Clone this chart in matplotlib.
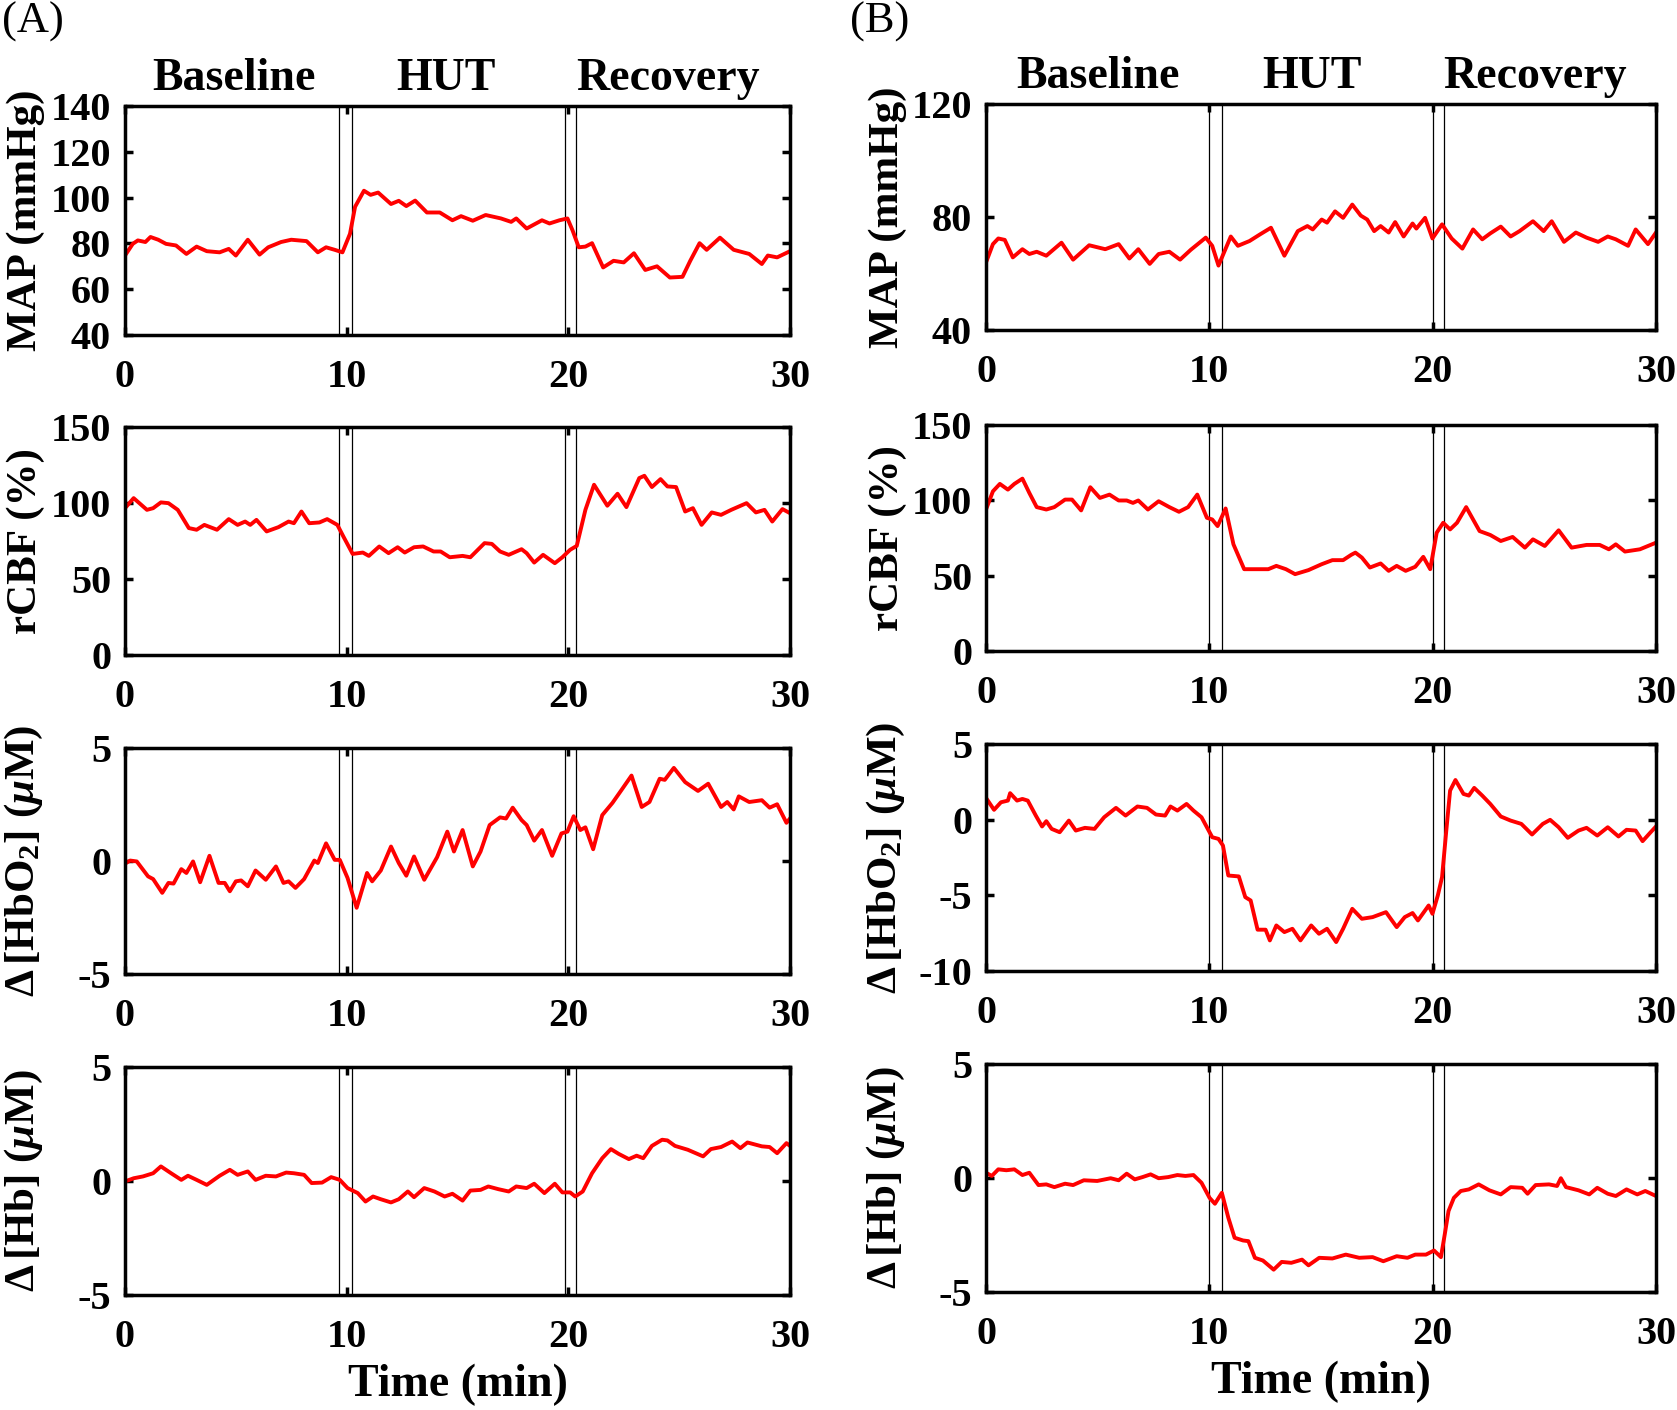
import numpy as np
import matplotlib
matplotlib.use("Agg")
import matplotlib.pyplot as plt

plt.rcParams['font.family'] = ['Liberation Serif', 'DejaVu Serif']
plt.rcParams['font.weight'] = 'bold'
plt.rcParams['mathtext.fontset'] = 'custom'
plt.rcParams['mathtext.rm'] = 'Liberation Serif:bold'
plt.rcParams['mathtext.it'] = 'Liberation Serif:italic:bold'
plt.rcParams['mathtext.bf'] = 'Liberation Serif:bold'
plt.rcParams['mathtext.default'] = 'regular'
plt.rcParams['axes.unicode_minus'] = False

# ---- data (time in min) ----
# (A) MAP
a_map_t = [0, 0.35, 0.58, 0.92, 1.15, 1.5, 1.85, 2.3, 2.77, 3.23, 3.69, 4.27, 4.68, 5.0, 5.54, 6.07, 6.46, 7.04, 7.5, 8.19,
           8.7, 9.07, 9.46, 9.81, 10.15, 10.38, 10.78, 11.08, 11.42, 12.0, 12.35, 12.69, 13.09, 13.62, 14.2, 14.77, 15.16,
           15.69, 16.27, 16.96, 17.42, 17.65, 18.12, 18.81, 19.15, 19.6, 19.96, 20.19, 20.47, 20.77, 21.07, 21.57, 22.04,
           22.5, 22.96, 23.47, 24.0, 24.58, 25.15, 25.5, 25.92, 26.24, 26.84, 27.46, 28.16, 28.73, 29.0, 29.42, 30]
a_map_v = [74.7, 79.8, 81.3, 80.6, 82.8, 81.6, 79.8, 79.1, 75.4, 78.6, 76.6, 76.1, 77.6, 74.7, 81.6, 75.1, 78.3, 80.6, 81.6, 81.0,
           76.1, 78.3, 77.2, 76.1, 84.2, 96.0, 103.0, 101.2, 102.2, 97.2, 98.6, 96.3, 98.7, 93.5, 93.5, 90.1, 91.9,
           89.9, 92.4, 90.9, 89.4, 90.9, 86.5, 90.1, 88.7, 90.1, 90.9, 85.7, 78.3, 78.6, 80.1, 69.5, 72.4,
           71.7, 75.7, 68.4, 70.0, 65.1, 65.4, 72.4, 80.1, 77.2, 82.5, 77.2, 75.4, 71.0, 74.7, 73.9, 76.6]

# (B) MAP
b_map_t = [0, 0.31, 0.55, 0.84, 1.2, 1.63, 1.94, 2.27, 2.7, 3.38, 3.9, 4.62, 5.34, 5.94, 6.42, 6.82, 7.33, 7.73, 8.21, 8.69,
           9.17, 9.84, 10.13, 10.41, 10.96, 11.28, 11.8, 12.28, 12.76, 13.36, 13.96, 14.39, 14.63, 15.03, 15.27, 15.63,
           15.99, 16.4, 16.78, 17.07, 17.38, 17.67, 18.03, 18.32, 18.7, 19.1, 19.27, 19.66, 19.99, 20.42, 20.85, 21.33,
           21.81, 22.22, 22.58, 23.05, 23.49, 23.89, 24.49, 24.97, 25.33, 25.88, 26.41, 26.89, 27.41, 27.84, 28.2, 28.75,
           29.09, 29.64, 30]
b_map_v = [63.9, 70.4, 72.4, 71.9, 65.7, 68.6, 66.9, 67.7, 66.3, 70.9, 64.9, 70.0, 68.6, 70.4, 65.3, 68.6, 63.4, 66.9, 67.7, 64.9,
           68.4, 72.7, 69.8, 62.8, 73.1, 69.8, 71.5, 73.9, 76.2, 66.3, 75.0, 76.8, 75.6, 79.1, 78.0, 82.0,
           79.7, 84.4, 80.5, 79.1, 75.0, 76.8, 74.5, 78.2, 73.1, 77.7, 75.9, 79.7, 72.4, 77.4, 72.4, 68.8,
           75.6, 72.1, 74.2, 76.6, 73.1, 75.0, 78.5, 75.0, 78.5, 71.2, 74.5, 72.7, 71.2, 73.1, 72.1, 69.8,
           75.6, 70.4, 74.5]

# (A) rCBF
a_cbf_t = [0, 0.39, 0.99, 1.27, 1.62, 1.96, 2.38, 2.88, 3.23, 3.58, 4.15, 4.68, 5.08, 5.42, 5.65, 5.93, 6.39, 6.92, 7.38,
           7.62, 7.96, 8.31, 8.77, 9.12, 9.58, 9.85, 10.27, 10.73, 11.0, 11.47, 11.89, 12.3, 12.62, 13.04, 13.45, 13.92,
           14.24, 14.65, 15.23, 15.58, 16.22, 16.55, 16.92, 17.31, 17.89, 18.12, 18.46, 18.86, 19.39, 19.73, 20.08, 20.38,
           20.77, 21.16, 21.76, 22.22, 22.62, 23.2, 23.43, 23.77, 24.16, 24.47, 24.86, 25.27, 25.62, 26.01, 26.47, 26.89,
           27.35, 28.04, 28.46, 28.85, 29.2, 29.66, 30]
a_cbf_v = [96.6, 103.2, 95.5, 96.6, 100.4, 99.9, 95.5, 83.5, 82.4, 85.6, 82.4, 89.4, 85.6, 87.8, 85.6, 88.9, 81.3, 84.1, 87.8,
           86.7, 94.4, 86.7, 87.2, 89.4, 85.6, 78.0, 66.5, 67.4, 65.2, 71.4, 67.0, 70.9, 67.4, 70.9, 71.4, 68.1,
           68.1, 64.3, 65.2, 64.3, 73.6, 73.1, 68.1, 65.9, 69.6, 67.0, 60.8, 65.9, 60.4, 64.3, 69.2, 71.8,
           95.5, 112.0, 98.2, 106.1, 97.3, 116.4, 117.9, 110.5, 115.7, 110.9, 110.5, 94.4, 96.6, 85.6, 93.8, 92.2,
           95.5, 99.9, 93.8, 95.5, 87.8, 96.0, 93.3]

# (B) rCBF
b_cbf_t = [0, 0.31, 0.62, 0.98, 1.27, 1.63, 1.94, 2.27, 2.7, 3.06, 3.54, 3.85, 4.26, 4.67, 5.1, 5.53, 5.94, 6.3, 6.58, 6.82,
           7.25, 7.73, 8.21, 8.64, 9.05, 9.46, 9.89, 10.13, 10.37, 10.73, 11.08, 11.56, 12.16, 12.64, 13.0, 13.43, 13.84,
           14.44, 15.03, 15.51, 15.99, 16.35, 16.54, 16.83, 17.19, 17.67, 18.03, 18.39, 18.79, 19.22, 19.58, 19.89, 20.18,
           20.47, 20.78, 21.09, 21.5, 22.1, 22.58, 23.05, 23.58, 24.13, 24.49, 25.02, 25.64, 26.22, 26.89, 27.48, 27.89,
           28.2, 28.61, 29.28, 30]
b_cbf_v = [93.9, 106.0, 110.9, 107.1, 110.9, 114.4, 104.9, 95.5, 93.9, 95.5, 100.5, 100.5, 93.3, 108.7, 101.6, 103.8, 99.9, 99.9,
           98.3, 99.9, 93.9, 99.4, 95.5, 92.4, 95.5, 103.8, 88.4, 87.3, 82.9, 94.6, 70.8, 54.3, 54.3, 54.3, 56.5, 54.3, 51.0,
           53.7, 57.6, 60.3, 60.3, 63.8, 65.3, 62.0, 55.4, 58.1, 53.2, 56.5, 53.2, 55.9, 62.5, 54.3, 78.5,
           85.1, 80.7, 85.1, 95.5, 79.6, 77.0, 73.0, 75.7, 68.6, 74.1, 69.7, 80.1, 68.6, 70.4, 70.4, 67.5,
           70.8, 66.0, 67.5, 71.9]

# (A) delta HbO2
a_hbo_t = [0, 0.23, 0.53, 1.04, 1.27, 1.68, 1.96, 2.19, 2.54, 2.77, 3.07, 3.39, 3.81, 4.22, 4.5, 4.73, 5.0, 5.24, 5.54, 5.89,
           6.35, 6.81, 7.15, 7.38, 7.69, 8.08, 8.54, 8.7, 9.07, 9.46, 9.69, 10.04, 10.45, 10.92, 11.15, 11.54, 12.0, 12.35,
           12.69, 13.04, 13.5, 14.08, 14.54, 14.84, 15.23, 15.69, 16.04, 16.45, 16.92, 17.19, 17.49, 17.89, 18.12, 18.46,
           18.81, 19.27, 19.69, 19.96, 20.24, 20.54, 20.77, 21.12, 21.53, 21.99, 22.39, 22.85, 23.31, 23.66, 24.12, 24.35,
           24.76, 25.27, 25.85, 26.31, 26.89, 27.17, 27.46, 27.69, 28.16, 28.73, 29.08, 29.42, 29.84, 30]
a_hbo_v = [-0.12, 0.02, -0.02, -0.68, -0.80, -1.41, -0.97, -1.0, -0.36, -0.53, -0.02, -0.94, 0.23, -0.97, -0.97, -1.34, -0.90,
           -0.86, -1.12, -0.42, -0.83, -0.24, -0.97, -0.90, -1.19, -0.80, 0.02, -0.09, 0.78, 0.05, 0.05, -0.75, -2.07, -0.53,
           -0.90, -0.42, 0.64, -0.09, -0.65, 0.20, -0.83, 0.17, 1.30, 0.42, 1.37, -0.24, 0.42, 1.59, 1.93, 1.88, 2.36, 1.81,
           1.59, 0.90, 1.37, 0.23, 1.22, 1.30, 1.98, 1.37, 1.49, 0.52, 2.03, 2.57, 3.13, 3.78, 2.39, 2.61, 3.64, 3.59,
           4.12, 3.49, 3.10, 3.42, 2.39, 2.61, 2.28, 2.86, 2.61, 2.69, 2.36, 2.51, 1.69, 1.88]

# (B) delta HbO2
b_hbo_t = [0, 0.36, 0.67, 0.98, 1.08, 1.39, 1.63, 1.87, 2.23, 2.51, 2.7, 2.94, 3.3, 3.71, 4.02, 4.43, 4.86, 5.29, 5.82, 6.25,
           6.78, 7.21, 7.61, 8.02, 8.26, 8.57, 8.98, 9.29, 9.65, 9.89, 10.13, 10.41, 10.61, 10.85, 11.32, 11.61, 11.85,
           12.16, 12.52, 12.71, 13.0, 13.36, 13.72, 14.08, 14.56, 14.91, 15.27, 15.68, 15.99, 16.4, 16.83, 17.31, 17.91,
           18.39, 18.75, 19.1, 19.34, 19.82, 19.99, 20.23, 20.42, 20.61, 20.78, 21.02, 21.38, 21.62, 21.86, 22.22, 22.58,
           23.05, 23.49, 23.97, 24.45, 24.93, 25.26, 25.64, 26.05, 26.53, 26.89, 27.37, 27.84, 28.32, 28.68, 29.09, 29.4,
           29.76, 30]
b_hbo_v = [1.44, 0.65, 1.15, 1.26, 1.75, 1.26, 1.37, 1.26, 0.27, -0.45, -0.10, -0.61, -0.83, -0.06, -0.72, -0.54, -0.61, 0.16,
           0.78, 0.27, 0.87, 0.78, 0.34, 0.27, 0.87, 0.60, 1.04, 0.60, 0.16, -0.50, -1.16, -1.27, -1.71, -3.69, -3.75,
           -5.12, -5.34, -7.27, -7.27, -7.98, -6.99, -7.43, -7.21, -7.98, -6.99, -7.54, -7.21, -8.09, -7.21, -5.89, -6.55,
           -6.44, -6.11, -7.10, -6.44, -6.17, -6.66, -5.67, -6.22, -5.01, -3.80, -0.72, 1.92, 2.62, 1.70, 1.59, 2.10, 1.59,
           1.04, 0.21, -0.06, -0.28, -0.98, -0.28, -0.01, -0.50, -1.20, -0.72, -0.54, -1.05, -0.50, -1.11, -0.67, -0.72,
           -1.42, -0.83, -0.45]

# (A) delta Hb
a_hb_t = [0, 0.39, 0.81, 1.27, 1.62, 2.08, 2.54, 2.84, 3.23, 3.69, 4.27, 4.73, 5.08, 5.54, 5.89, 6.35, 6.81, 7.27, 7.62, 8.08,
          8.42, 8.89, 9.3, 9.69, 10.04, 10.5, 10.85, 11.19, 11.54, 12.0, 12.35, 12.76, 13.04, 13.5, 13.96, 14.42, 14.77,
          15.23, 15.58, 16.04, 16.39, 16.85, 17.31, 17.65, 18.12, 18.46, 18.92, 19.39, 19.73, 20.08, 20.31, 20.65, 21.07,
          21.53, 21.92, 22.27, 22.73, 23.08, 23.38, 23.77, 24.23, 24.47, 24.81, 25.39, 26.08, 26.43, 26.89, 27.39, 27.76,
          28.08, 28.73, 29.08, 29.42, 29.84, 30]
a_hb_v = [-0.02, 0.12, 0.20, 0.34, 0.64, 0.34, 0.05, 0.23, 0.05, -0.17, 0.23, 0.49, 0.27, 0.42, 0.05, 0.23, 0.20, 0.37, 0.34,
          0.27, -0.09, -0.07, 0.17, 0.05, -0.31, -0.53, -0.90, -0.68, -0.80, -0.94, -0.80, -0.46, -0.71, -0.31, -0.46,
          -0.68, -0.56, -0.86, -0.42, -0.39, -0.24, -0.36, -0.46, -0.24, -0.31, -0.12, -0.53, -0.12, -0.50, -0.50, -0.68,
          -0.46, 0.34, 1.00, 1.40, 1.19, 0.96, 1.11, 1.00, 1.54, 1.81, 1.78, 1.54, 1.37, 1.08, 1.40, 1.49, 1.73, 1.44,
          1.69, 1.52, 1.49, 1.22, 1.66, 1.54]

# (B) delta Hb
b_hb_t = [0, 0.26, 0.55, 0.91, 1.27, 1.63, 1.94, 2.35, 2.7, 3.06, 3.54, 3.9, 4.38, 4.98, 5.58, 5.94, 6.3, 6.66, 7.01, 7.37,
          7.73, 8.16, 8.57, 8.93, 9.29, 9.65, 10.01, 10.25, 10.56, 10.85, 11.13, 11.51, 11.75, 12.04, 12.4, 12.88, 13.24,
          13.67, 14.15, 14.44, 14.92, 15.51, 16.11, 16.71, 17.31, 17.79, 18.39, 18.87, 19.22, 19.7, 20.06, 20.37, 20.54,
          20.71, 20.95, 21.26, 21.62, 22.06, 22.54, 23.05, 23.49, 24.01, 24.25, 24.61, 25.21, 25.57, 25.74, 25.97, 26.53,
          27.01, 27.37, 27.84, 28.2, 28.68, 29.16, 29.52, 30]
b_hb_v = [0.23, 0.09, 0.38, 0.34, 0.38, 0.13, 0.23, -0.31, -0.28, -0.40, -0.25, -0.31, -0.10, -0.13, -0.01, -0.10, 0.19,
          -0.06, 0.04, 0.16, -0.01, 0.04, 0.13, 0.09, 0.13, -0.21, -0.87, -1.13, -0.65, -1.74, -2.62, -2.74, -2.77, -3.50,
          -3.62, -4.02, -3.68, -3.72, -3.58, -3.83, -3.50, -3.53, -3.36, -3.50, -3.47, -3.65, -3.43, -3.50, -3.36, -3.36,
          -3.18, -3.47, -2.48, -1.45, -0.87, -0.57, -0.50, -0.28, -0.54, -0.72, -0.40, -0.43, -0.69, -0.31, -0.28, -0.35,
          -0.01, -0.40, -0.54, -0.72, -0.43, -0.69, -0.79, -0.50, -0.72, -0.57, -0.79]

# markers of the tilt transitions
a_marks = [9.65, 10.25, 19.85, 20.35]
b_marks = [10.0, 10.55, 20.0, 20.5]

phases = ['Baseline', 'HUT', 'Recovery']
a_phase_x = [4.9, 14.5, 24.5]
b_phase_x = [5.0, 14.6, 24.6]

ylabels = ['MAP (mmHg)', 'rCBF (%)', r'$\Delta\,$[HbO$_2$] ($\mathit{\mu}$M)', r'$\Delta\,$[Hb] ($\mathit{\mu}$M)']
a_ylims = [(40, 140), (0, 150), (-5, 5), (-5, 5)]
b_ylims = [(40, 120), (0, 150), (-10, 5), (-5, 5)]
a_yticks = [[40, 60, 80, 100, 120, 140], [0, 50, 100, 150], [-5, 0, 5], [-5, 0, 5]]
b_yticks = [[40, 80, 120], [0, 50, 100, 150], [-10, -5, 0, 5], [-5, 0, 5]]

W, H = 1677, 1410
fig = plt.figure(figsize=(W / 100, H / 100), dpi=100)

# axes boxes in pixels: (left, top, right, bottom)
a_boxes = [(125, 106, 790, 335), (125, 427, 790, 655), (125, 748, 790, 974), (125, 1067, 790, 1295)]
b_boxes = [(986, 104, 1656, 330), (986, 425, 1656, 651), (986, 744, 1656, 971), (986, 1064, 1656, 1292)]

a_data = [(a_map_t, a_map_v), (a_cbf_t, a_cbf_v), (a_hbo_t, a_hbo_v), (a_hb_t, a_hb_v)]
b_data = [(b_map_t, b_map_v), (b_cbf_t, b_cbf_v), (b_hbo_t, b_hbo_v), (b_hb_t, b_hb_v)]


def draw_col(boxes, data, ylims, yticks, marks, phase_x, label_x):
    for i in range(4):
        l, t, r, b = boxes[i]
        ax = fig.add_axes([l / W, 1 - b / H, (r - l) / W, (b - t) / H])
        for m in marks:
            ax.axvline(m, color='black', lw=0.9)
        ax.plot(data[i][0], data[i][1], color='red', lw=2.8, solid_joinstyle='round')
        ax.set_xlim(0, 30)
        ax.set_ylim(*ylims[i])
        ax.set_xticks([0, 10, 20, 30])
        ax.set_yticks(yticks[i])
        ax.tick_params(direction='in', length=6, width=2.5, top=True, right=True, labelsize=29)
        ax.tick_params(axis='x', pad=17)
        ax.tick_params(axis='y', pad=10)
        for sp in ax.spines.values():
            sp.set_linewidth(2.5)
        ax.set_ylabel(ylabels[i], fontsize=31, fontweight='bold')
        ax.yaxis.set_label_coords(label_x, 0.5)
        if i == 0:
            for name, x in zip(phases, phase_x):
                ax.text(x, 1.07, name, transform=ax.get_xaxis_transform(), ha='center', va='baseline',
                        fontsize=33, fontweight='bold')
        if i == 3:
            ax.set_xlabel('Time (min)', fontsize=33, fontweight='bold', labelpad=6)


draw_col(a_boxes, a_data, a_ylims, a_yticks, a_marks, a_phase_x, -0.12)
draw_col(b_boxes, b_data, b_ylims, b_yticks, b_marks, b_phase_x, -0.118)

fig.text(2 / W, 1 - 2 / H, '(A)', fontsize=32, fontweight='normal', va='top', ha='left')
fig.text(850 / W, 1 - 2 / H, '(B)', fontsize=32, fontweight='normal', va='top', ha='left')

fig.savefig('out.png', dpi=100)
